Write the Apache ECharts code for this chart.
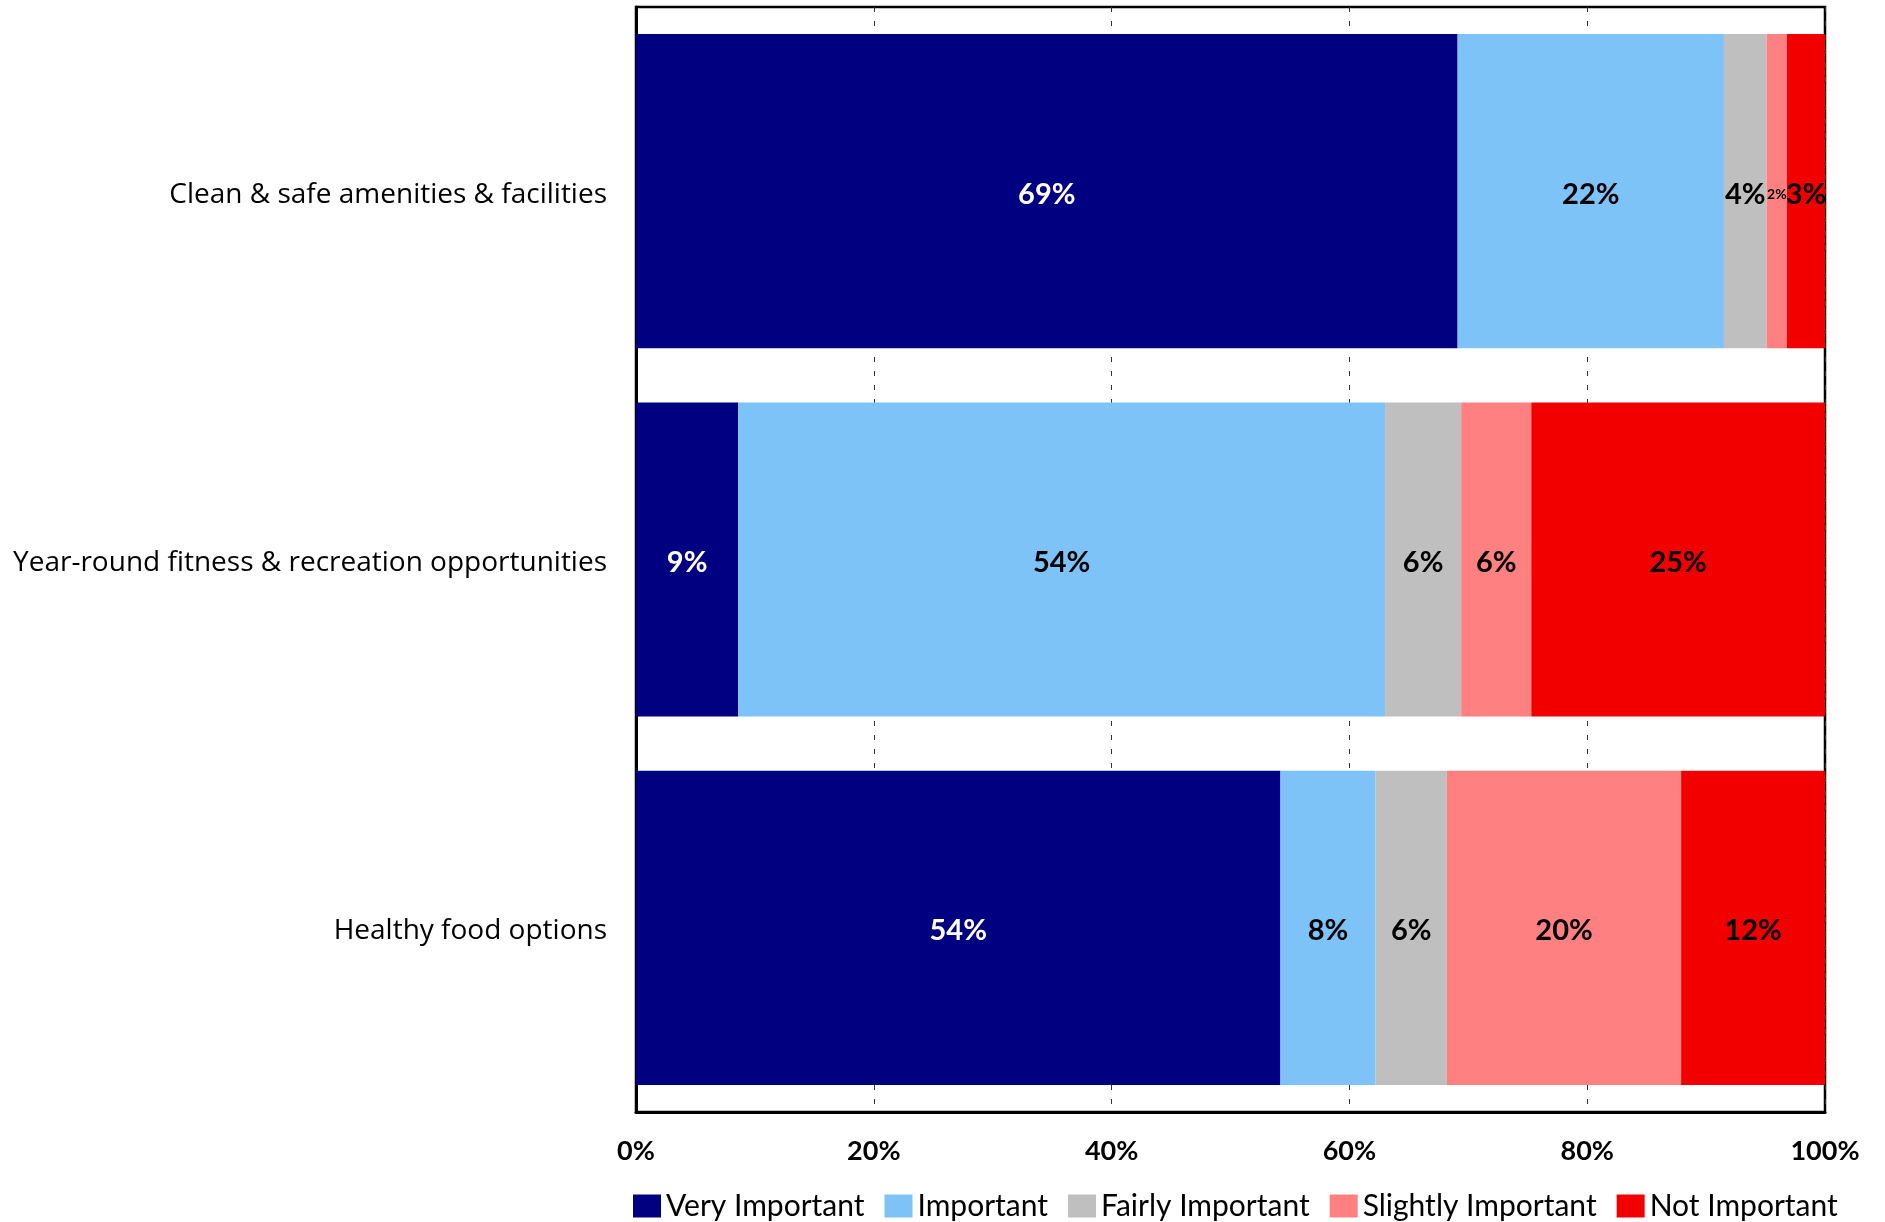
<!DOCTYPE html>
<html>
<head>
<meta charset="utf-8">
<script src="https://cdn.jsdelivr.net/npm/echarts@6/dist/echarts.min.js"></script>
<style>
html,body{margin:0;padding:0;background:#fff;}
#chart{width:1885px;height:1222px;}
</style>
</head>
<body>
<div id="chart"></div>
<script>
const categories = [
  'Clean & safe amenities & facilities',
  'Year-round fitness & recreation opportunities',
  'Healthy food options'
];
const seriesNames = ['Very Important', 'Important', 'Fairly Important', 'Slightly Important', 'Not Important'];
const veryImportant     = [69.1, 8.6, 54.2];
const important         = [22.4, 54.4, 8.0];
const fairlyImportant   = [3.6, 6.4, 6.0];
const slightlyImportant = [1.7, 5.9, 19.7];
const notImportant      = [3.2, 24.7, 12.1];
const xTicks = [0, 20, 40, 60, 80, 100];

const values = [veryImportant, important, fairlyImportant, slightlyImportant, notImportant];
const colors = ['#000080', '#7DC3F8', '#BFBFBF', '#FF8080', '#F20000'];
const labelColors = ['#ffffff', '#000000', '#000000', '#000000', '#000000'];

const series = seriesNames.map((name, i) => ({
  name: name,
  type: 'bar',
  stack: 'total',
  barCategoryGap: '14.7%',
  itemStyle: { color: colors[i] },
  label: {
    show: true,
    position: 'inside',
    offset: [0, 3],
    color: labelColors[i],
    fontFamily: 'Lato',
    fontWeight: 'bold',
    fontSize: 29,
    formatter: p => Math.round(p.value) + '%'
  },
  data: values[i].map(v => v < 2.5 ? { value: v, label: { fontSize: 14 } } : v)
}));

const chart = echarts.init(document.getElementById('chart'), null, { renderer: 'canvas' });
chart.setOption({
  animation: false,
  backgroundColor: '#ffffff',
  grid: {
    left: 636, right: 60, top: 7, bottom: 110,
    show: true, borderColor: '#000', borderWidth: 2.5, backgroundColor: 'transparent'
  },
  legend: {
    data: seriesNames,
    left: 628,
    top: 1186,
    itemWidth: 28,
    itemHeight: 23,
    itemGap: 20,
    icon: 'rect',
    textStyle: { fontFamily: 'Lato', fontSize: 30, color: '#000' }
  },
  xAxis: {
    type: 'value',
    min: xTicks[0],
    max: xTicks[xTicks.length - 1],
    interval: 20,
    axisLine: { show: true, lineStyle: { color: '#000', width: 3 } },
    axisTick: { show: false },
    splitLine: { show: true, lineStyle: { color: '#333', width: 1, type: [5, 9] } },
    axisLabel: {
      margin: 26,
      color: '#000',
      fontFamily: 'Lato',
      fontWeight: 'bold',
      fontSize: 27,
      formatter: '{value}%'
    }
  },
  yAxis: {
    type: 'category',
    inverse: true,
    data: categories,
    axisLine: { show: true, lineStyle: { color: '#000', width: 3 } },
    axisTick: { show: false },
    axisLabel: {
      margin: 29,
      color: '#000',
      fontFamily: 'Open Sans',
      fontSize: 28,
      formatter: v => '{c|' + v + '}',
      rich: {
        c: { fontFamily: 'Open Sans', fontSize: 28, color: '#000', padding: [7, 0, 0, 0] }
      }
    }
  },
  series: series
});
</script>
</body>
</html>
